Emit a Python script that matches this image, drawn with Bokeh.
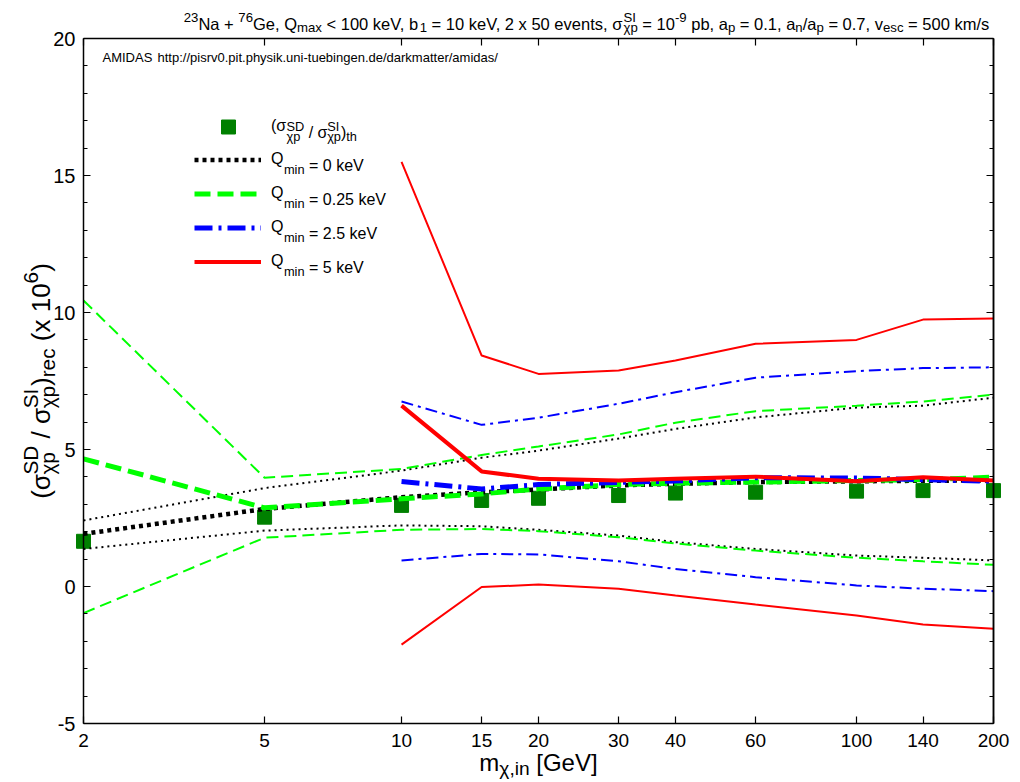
import math
from bokeh.plotting import figure
from bokeh.models import (Range1d, FixedTicker, LogAxis, LinearAxis, Label,
                          Legend, LegendItem, BasicTickFormatter)
from bokeh.core.properties import value
from bokeh.embed import file_html
from bokeh.resources import INLINE

# ---------------- data ----------------
masses = [2, 5, 10, 15, 20, 30, 40, 60, 100, 140, 200]
theory = [1.65, 2.53, 2.96, 3.14, 3.22, 3.32, 3.41, 3.44, 3.48, 3.50, 3.50]

q0_mid = [1.92, 2.83, 3.26, 3.44, 3.54, 3.69, 3.75, 3.81, 3.84, 3.86, 3.87]
q0_hi = [2.41, 3.59, 4.23, 4.70, 4.96, 5.40, 5.75, 6.17, 6.53, 6.60, 6.89]
q0_lo = [1.37, 2.04, 2.23, 2.20, 2.07, 1.86, 1.62, 1.37, 1.13, 1.05, 0.95]

q025_mid = [4.66, 2.87, 3.20, 3.38, 3.56, 3.72, 3.77, 3.81, 3.87, 3.90, 3.99]
q025_hi = [10.44, 3.97, 4.29, 4.80, 5.11, 5.55, 5.98, 6.40, 6.60, 6.75, 7.00]
q025_lo = [-0.97, 1.78, 2.07, 2.10, 2.02, 1.80, 1.57, 1.31, 1.05, 0.92, 0.79]

masses_hi = [10, 15, 20, 30, 40, 60, 100, 140, 200]
q25_mid = [3.83, 3.56, 3.72, 3.80, 3.85, 3.97, 3.96, 3.90, 3.84]
q25_hi = [6.75, 5.90, 6.16, 6.67, 7.09, 7.62, 7.86, 7.97, 8.00]
q25_lo = [0.95, 1.19, 1.17, 0.92, 0.64, 0.34, 0.04, -0.08, -0.17]

q5_mid = [6.60, 4.20, 3.93, 3.87, 3.93, 4.01, 3.84, 3.99, 3.87]
q5_hi = [15.50, 8.43, 7.76, 7.88, 8.25, 8.86, 9.00, 9.74, 9.78]
q5_lo = [-2.12, -0.02, 0.07, -0.08, -0.33, -0.66, -1.06, -1.39, -1.54]

x_ticks = [2, 5, 10, 15, 20, 30, 40, 60, 100, 140, 200]
x_tick_labels = ["2", "5", "10", "15", "20", "30", "40", "60", "100", "140", "200"]
y_ticks = [-5, 0, 5, 10, 15, 20]
y_tick_labels = ["-5", "0", "5", "10", "15", "20"]
y_minor = [v for v in range(-5, 21) if v % 5 != 0]

# ---------------- layout ----------------
W, H = 1018, 780
BOX_L, BOX_R, BOX_T, BOX_B = 83, 993, 38, 723   # plot box in canvas pixels
XMIN, XMAX, YMIN, YMAX = 2, 200, -5, 20
FONT = "Liberation Sans"

_lx0, _lx1 = math.log10(XMIN), math.log10(XMAX)
_ppd = (BOX_R - BOX_L) / (_lx1 - _lx0)
_ppu = (BOX_B - BOX_T) / (YMAX - YMIN)
x_start = 10 ** (_lx0 - BOX_L / _ppd)
x_end = 10 ** (_lx1 + (W - BOX_R) / _ppd)
y_top = YMAX + BOX_T / _ppu
y_bot = YMIN - (H - BOX_B) / _ppu


def to_data(cx, cy):
    return 10 ** (_lx0 + (cx - BOX_L) / _ppd), YMAX - (cy - BOX_T) / _ppu


p = figure(width=W, height=H, x_axis_type="log",
           x_range=Range1d(x_start, x_end), y_range=Range1d(y_bot, y_top),
           output_backend="svg", toolbar_location=None, min_border=0)
p.grid.visible = False
p.outline_line_color = None
p.background_fill_color = "white"
p.border_fill_color = "white"


def style_axis(ax, major, minor, loc, bounds, major_len=7, minor_len=4):
    ax.ticker = FixedTicker(ticks=major, minor_ticks=minor)
    ax.fixed_location = loc
    ax.bounds = bounds
    ax.axis_line_color = "black"
    ax.axis_line_width = 1.5
    ax.major_tick_line_color = "black"
    ax.minor_tick_line_color = "black"
    ax.major_tick_line_width = 1.2
    ax.minor_tick_line_width = 1.2
    ax.major_tick_in = major_len
    ax.major_tick_out = 0
    ax.minor_tick_in = minor_len
    ax.minor_tick_out = 0


xa = p.xaxis[0]
style_axis(xa, x_ticks, [], YMIN, (XMIN, XMAX))
xa.formatter = BasicTickFormatter(use_scientific=False)
xa.major_label_overrides = {t: s for t, s in zip(x_ticks, x_tick_labels)}
xa.major_label_text_font = FONT
xa.major_label_text_font_size = "19px"
xa.major_label_text_color = "black"
xa.major_label_standoff = 10

ya = p.yaxis[0]
style_axis(ya, y_ticks, y_minor, XMIN, (YMIN, YMAX))
ya.formatter = BasicTickFormatter(use_scientific=False)
ya.major_label_overrides = {t: s for t, s in zip(y_ticks, y_tick_labels)}
ya.major_label_text_font = FONT
ya.major_label_text_font_size = "20px"
ya.major_label_text_color = "black"
ya.major_label_standoff = 8

# mirrored tick marks (top / right) without labels
top_ax = LogAxis()
style_axis(top_ax, [], x_ticks, YMAX, (XMIN, XMAX), minor_len=7)
p.add_layout(top_ax, "above")
right_major = LinearAxis()
style_axis(right_major, [], y_ticks, XMAX, (YMIN, YMAX), minor_len=7)
p.add_layout(right_major, "right")
right_minor = LinearAxis()
style_axis(right_minor, [], y_minor, XMAX, (YMIN, YMAX), minor_len=4)
p.add_layout(right_minor, "right")

# ---------------- glyphs ----------------
GREEN_SQ = "#008000"
BLACK, GREEN, BLUE, RED = "#000000", "#00ff00", "#0000ff", "#ff0000"

r_sq = p.scatter(masses, theory, marker="square", size=14, color=GREEN_SQ)

THIN = 2.0


def band(xs, mid, hi, lo, color, thin_dash, thick_dash, thick_w):
    p.line(xs, hi, line_color=color, line_width=THIN, line_dash=thin_dash)
    p.line(xs, lo, line_color=color, line_width=THIN, line_dash=thin_dash)
    return p.line(xs, mid, line_color=color, line_width=thick_w, line_dash=thick_dash)


r0 = band(masses, q0_mid, q0_hi, q0_lo, BLACK, "2 4", "4 4", 4.5)
r025 = band(masses, q025_mid, q025_hi, q025_lo, GREEN, "12 6", "16 7", 5)
r25 = band(masses_hi, q25_mid, q25_hi, q25_lo, BLUE, "12 5 3 5", "18 6 3 6", 5)
r5 = band(masses_hi, q5_mid, q5_hi, q5_lo, RED, "solid", "solid", 4)

# ---------------- rich text helper ----------------
WID = {' ': .278, '(': .333, ')': .333, '/': .278, '[': .278, ']': .278,
       '+': .584, '=': .584, '<': .584, ',': .278, '.': .278, '-': .333,
       ':': .278, 'σ': .60, 'χ': .52}
for c in "0123456789":
    WID[c] = .556
WID.update({'A': .667, 'D': .722, 'G': .778, 'I': .278, 'M': .833, 'N': .722,
            'Q': .778, 'S': .667, 'V': .667})
WID.update({'a': .556, 'b': .556, 'c': .5, 'd': .556, 'e': .556, 'g': .556,
            'h': .556, 'i': .222, 'k': .5, 'm': .833, 'n': .556, 'p': .556,
            'r': .333, 's': .5, 't': .278, 'u': .556, 'v': .5, 'x': .5,
            'y': .5})
SUBR, SUP, SUB = 0.8, 0.38, 0.25


def tw(s, size):
    return sum(WID.get(c, .556) for c in s) * size


def rich(segs, x0, y0, size, rot=False, anchor="left"):
    ss = size * SUBR
    items, adv = [], 0.0
    for seg in segs:
        kind = seg[0]
        if kind == "n":
            items.append((seg[1], adv, 0, size)); adv += tw(seg[1], size)
        elif kind == "sup":
            items.append((seg[1], adv, SUP * size, ss)); adv += tw(seg[1], ss)
        elif kind == "sub":
            items.append((seg[1], adv, -SUB * size, ss)); adv += tw(seg[1], ss)
        else:  # stacked sup/sub
            items.append((seg[1], adv, SUP * size, ss))
            items.append((seg[2], adv, -SUB * size, ss))
            adv += max(tw(seg[1], ss), tw(seg[2], ss))
    shift = -adv / 2 if anchor == "center" else 0.0
    for text, a, up, sz in items:
        lead = len(text) - len(text.lstrip(" "))
        a += tw(" " * lead, sz)
        text = text.strip(" ")
        if not text:
            continue
        if rot:
            cx, cy = x0 - up, y0 - (shift + a)
        else:
            cx, cy = x0 + shift + a, y0 - up
        dx, dy = to_data(cx, cy)
        p.add_layout(Label(x=dx, y=dy, text=text, text_font=FONT,
                           text_font_size=f"{sz:.1f}px", text_color="black",
                           angle=math.pi / 2 if rot else 0,
                           text_align="left", text_baseline="alphabetic"))


# ---------------- legend ----------------
LEG_FS = 16
LEG_TX = 271
MID_SHIFT = 0.35 * LEG_FS
leg_common = dict(padding=0, margin=0, border_line_color=None,
                  background_fill_alpha=0, label_text_font=FONT,
                  label_text_font_size=f"{LEG_FS}px", label_text_color="black",
                  label_text_baseline="middle")
SQ_C = 126
leg_sq = Legend(items=[LegendItem(label=value("(σ"), renderers=[r_sq])],
                location=(193, H - (SQ_C + 17.5)), glyph_width=70,
                glyph_height=35, label_height=35, label_standoff=LEG_TX - 263,
                spacing=0, **leg_common)
LN_C0, LN_P = 159, 34
leg_ln = Legend(items=[LegendItem(label=value("Q"), renderers=[r])
                       for r in (r0, r025, r25, r5)],
                location=(194, H - (LN_C0 - 10.5 + 4 * 21 + 3 * 13)),
                glyph_width=67, glyph_height=21, label_height=21,
                label_standoff=LEG_TX - 261, spacing=LN_P - 21, **leg_common)
p.add_layout(leg_sq)
p.add_layout(leg_ln)

rich([("st", "SD", "χp"), ("n", " / σ"), ("st", "SI", "χp"), ("n", ")"),
      ("sub", "th")], LEG_TX + tw("(σ", LEG_FS), SQ_C + MID_SHIFT, LEG_FS)
for i, q in enumerate(["0", "0.25", "2.5", "5"]):
    rich([("sub", "min"), ("n", f" = {q} keV")], LEG_TX + tw("Q", LEG_FS),
         LN_C0 + LN_P * i + MID_SHIFT, LEG_FS)

# ---------------- titles ----------------
title_segs = [("sup", "23"), ("n", "Na + "), ("sup", "76"), ("n", "Ge, Q"),
              ("sub", "max"), ("n", " < 100 keV, b"), ("sub", "1"),
              ("n", " = 10 keV, 2 x 50 events, σ"), ("st", "SI", "χp"),
              ("n", " = 10"), ("sup", "-9"), ("n", " pb, a"), ("sub", "p"),
              ("n", " = 0.1, a"), ("sub", "n"), ("n", "/a"), ("sub", "p"),
              ("n", " = 0.7, v"), ("sub", "esc"), ("n", " = 500 km/s")]
rich(title_segs, 586, 23, 16.5, anchor="center")

rich([("n", "AMIDAS")], 102, 57, 13)
rich([("n", "http://pisrv0.pit.physik.uni-tuebingen.de/darkmatter/amidas/")],
     157, 57, 13)

rich([("n", "m"), ("sub", "χ,in"), ("n", " [GeV]")], (BOX_L + BOX_R) / 2, 762, 24,
     anchor="center")

ylab = [("n", "(σ"), ("st", "SD", "χp"), ("n", " / σ"), ("st", "SI", "χp"),
        ("n", ")"), ("sub", "rec"), ("n", " (x 10"), ("sup", "6"), ("n", ")")]
rich(ylab, 40, (BOX_T + BOX_B) / 2, 26, rot=True, anchor="center")

open("out.html", "w").write(file_html(p, INLINE))
